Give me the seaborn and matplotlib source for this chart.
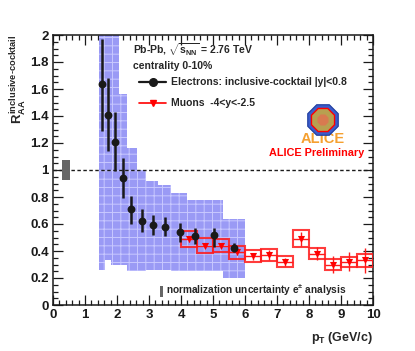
import numpy as np
import matplotlib
matplotlib.use('Agg')
import matplotlib.pyplot as plt
from matplotlib.patches import Rectangle, RegularPolygon
from matplotlib.ticker import MultipleLocator, FuncFormatter
import seaborn as sns

# electrons: inclusive-cocktail, |y|<0.8
e_pt = [1.52, 1.71, 1.93, 2.18, 2.45, 2.77, 3.12, 3.51, 3.96, 4.45, 5.02, 5.67]
e_raa = [1.64, 1.41, 1.21, 0.94, 0.71, 0.62, 0.59, 0.58, 0.54, 0.51, 0.52, 0.42]
e_stat_lo = [0.35, 0.27, 0.22, 0.15, 0.11, 0.08, 0.07, 0.07, 0.07, 0.06, 0.09, 0.03]
e_stat_hi = [0.33, 0.27, 0.22, 0.15, 0.10, 0.09, 0.08, 0.07, 0.07, 0.06, 0.05, 0.04]
# systematic band (step edges, bottom, top)
e_sys_edges = [1.44, 1.62, 1.81, 2.07, 2.32, 2.61, 2.92, 3.28, 3.70, 4.20, 4.74, 5.31, 6.00]
e_sys_bot = [0.26, 0.33, 0.30, 0.30, 0.25, 0.25, 0.26, 0.26, 0.25, 0.25, 0.25, 0.20]
e_sys_top = [2.30, 2.10, 2.05, 1.56, 1.16, 1.00, 0.92, 0.89, 0.83, 0.78, 0.78, 0.64]

# muons: -4<y<-2.5
m_pt = [4.25, 4.75, 5.25, 5.75, 6.25, 6.75, 7.25, 7.75, 8.25, 8.75, 9.25, 9.75]
m_raa = [0.49, 0.44, 0.44, 0.39, 0.36, 0.37, 0.32, 0.49, 0.38, 0.30, 0.32, 0.33]
m_stat = [0.02, 0.02, 0.02, 0.02, 0.025, 0.04, 0.03, 0.05, 0.05, 0.06, 0.07, 0.09]
m_sys = [0.058, 0.053, 0.05, 0.048, 0.045, 0.045, 0.04, 0.062, 0.04, 0.04, 0.035, 0.045]
m_binw = 0.5

norm_unc = 0.073

sns.set_theme(style='ticks')
plt.rcParams['font.family'] = ['Liberation Sans', 'DejaVu Sans']
plt.rcParams['font.weight'] = 'bold'
plt.rcParams['axes.labelweight'] = 'bold'
plt.rcParams['mathtext.fontset'] = 'custom'
plt.rcParams['mathtext.rm'] = 'Liberation Sans:bold'
plt.rcParams['mathtext.it'] = 'Liberation Sans:bold'
plt.rcParams['mathtext.bf'] = 'Liberation Sans:bold'
plt.rcParams['hatch.linewidth'] = 0.7

fig = plt.figure(figsize=(4.15, 3.51), dpi=100)
ax = fig.add_axes([53 / 415, 46 / 351, 320 / 415, 270 / 351])

# electron systematics
ax.stairs(e_sys_top, e_sys_edges, baseline=e_sys_bot, fill=True,
          facecolor='#9a9af5', edgecolor='#c8c8ff', hatch='++', lw=0, zorder=1)

ax.axhline(1, color='k', ls=(0, (2.5, 1.8)), lw=1.0, zorder=2)

# normalization box
ax.add_patch(Rectangle((0.27, 1 - norm_unc), 0.26, 2 * norm_unc,
                       facecolor='#666666', edgecolor='none', zorder=3))

# muon boxes + errors
for x, y, s in zip(m_pt, m_raa, m_sys):
    ax.add_patch(Rectangle((x - m_binw / 2, y - s), m_binw, 2 * s, fill=False,
                           edgecolor='#ff1a1a', lw=1.5, alpha=0.85, zorder=4))
ax.errorbar(m_pt, m_raa, xerr=m_binw / 2, yerr=m_stat, fmt='none',
            ecolor='#ff1a1a', elinewidth=1.0, capsize=0, zorder=4)
sns.scatterplot(x=m_pt, y=m_raa, marker='v', s=26, color='red',
                edgecolor='red', linewidth=0, zorder=5, ax=ax)

# electron points
ax.errorbar(e_pt, e_raa, yerr=[e_stat_lo, e_stat_hi], fmt='none',
            ecolor='k', elinewidth=1.8, capsize=0, zorder=6)
sns.scatterplot(x=e_pt, y=e_raa, marker='o', s=32, color='k',
                edgecolor='k', linewidth=0, zorder=7, ax=ax)

ax.set_xlim(0, 10)
ax.set_ylim(0, 2)
ax.xaxis.set_major_locator(MultipleLocator(1))
ax.xaxis.set_minor_locator(MultipleLocator(0.2))
ax.yaxis.set_major_locator(MultipleLocator(0.2))
ax.yaxis.set_minor_locator(MultipleLocator(0.05))
fmt = FuncFormatter(lambda v, p: '%g' % round(v, 2))
ax.xaxis.set_major_formatter(fmt)
ax.yaxis.set_major_formatter(fmt)
ax.tick_params(which='both', direction='in', top=True, right=True,
               width=0.9, colors='k', labelsize=9.5)
ax.tick_params(which='major', length=7, pad=3)
ax.tick_params(which='minor', length=3.5)
for sp in ax.spines.values():
    sp.set_linewidth(1.1)
    sp.set_color('k')

ax.set_ylabel(r'$R_{AA}^{inclusive\text{-}cocktail}$', loc='top', fontsize=9.5)
ax.yaxis.set_label_coords(-0.075, 1.0)
ax.set_xlabel(r'$p_{T}$ (GeV/c)', loc='right', fontsize=9, labelpad=6)

# legend / annotations
tx = ax.transAxes
ax.text(0.249, 0.945, r'Pb-Pb, $\sqrt{s_{NN}}$ = 2.76 TeV', transform=tx,
        fontsize=7.5, va='center', ha='left')
ax.text(0.249, 0.884, 'centrality 0-10%', transform=tx,
        fontsize=7.5, va='center', ha='left')
ax.plot([0.27, 0.352], [0.826, 0.826], color='k', lw=1.6, transform=tx)
ax.plot([0.311], [0.826], 'o', color='k', ms=5.5, transform=tx)
ax.text(0.369, 0.826, 'Electrons: inclusive-cocktail |y|<0.8', transform=tx,
        fontsize=7.5, va='center', ha='left')
ax.plot([0.27, 0.352], [0.747, 0.747], color='red', lw=1.2, transform=tx)
ax.plot([0.311], [0.747], 'v', color='red', ms=4.5, transform=tx)
ax.text(0.369, 0.747, 'Muons  -4<y<-2.5', transform=tx,
        fontsize=7.5, va='center', ha='left')

# ALICE logo (simplified)
logo_c = (3.23, 3.51 - 1.20)
fig.patches.append(RegularPolygon(logo_c, 8, radius=0.165, orientation=np.pi / 8,
                                  facecolor='#3a5ccc', edgecolor='#1c3a9c', lw=0.8,
                                  transform=fig.dpi_scale_trans, zorder=8))
fig.patches.append(RegularPolygon(logo_c, 8, radius=0.125, orientation=np.pi / 8,
                                  facecolor='#b8a050', edgecolor='red', lw=1.0,
                                  transform=fig.dpi_scale_trans, zorder=9))
fig.patches.append(RegularPolygon(logo_c, 8, radius=0.06, orientation=np.pi / 8,
                                  facecolor='#d87a50', edgecolor='none',
                                  transform=fig.dpi_scale_trans, zorder=10))
ax.text(0.844, 0.615, 'ALICE', transform=tx, fontsize=10.5, color='#f5a030',
        va='center', ha='center')
ax.text(0.825, 0.563, 'ALICE Preliminary', transform=tx, fontsize=7.8,
        color='#ff0000', va='center', ha='center')

# normalization legend
ax.add_patch(Rectangle((0.333, 0.031), 0.011, 0.04, transform=tx,
                       facecolor='#666666', edgecolor='none'))
ax.text(0.352, 0.053, r'normalization uncertainty e$^{\pm}$ analysis', transform=tx,
        fontsize=7.3, va='center', ha='left')

fig.savefig('out.png', dpi=100)
